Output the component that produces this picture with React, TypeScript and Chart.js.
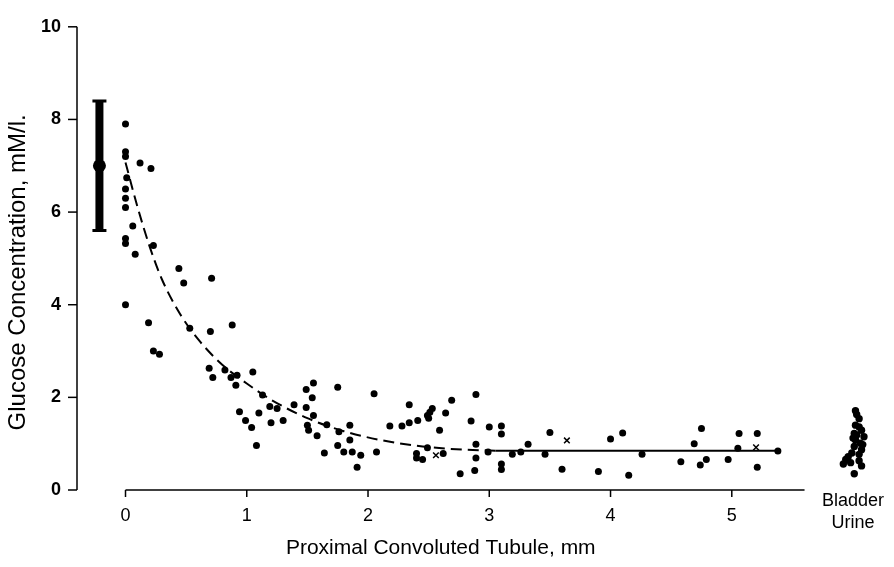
import React, { useEffect, useRef } from "react";
import { Chart, registerables } from "chart.js";

Chart.register(...registerables);

// ---- tick labels / text ----
const X_TICKS = [0, 1, 2, 3, 4, 5];
const Y_TICKS = [0, 2, 4, 6, 8, 10];
const X_TITLE = "Proximal Convoluted Tubule, mm";
const Y_TITLE = "Glucose Concentration, mM/l.";
const BLADDER_LABEL = ["Bladder", "Urine"];

// ---- tubular fluid samples (dots) ----
const TUBULE_X = [
  0.0, 0.0, 0.0, 0.12, 0.21, 0.01, 0.0, 0.0, 0.0, 0.06, 0.0, 0.0, 0.23, 0.08, 0.44, 0.48, 0.71, 0.0,
  0.19, 0.23, 0.28, 0.53, 0.7, 0.88, 0.69, 0.72, 0.82, 0.87, 0.92, 0.91, 1.05, 1.13, 0.94, 0.99, 1.04,
  1.1, 1.08, 1.19, 1.25, 1.2, 1.3, 1.39, 1.49, 1.55, 1.54, 1.49, 1.55, 1.5, 1.51, 1.58, 1.75, 1.66,
  1.76, 1.75, 1.64, 2.05, 2.34, 2.69, 2.89, 1.85, 1.85, 1.8, 1.87, 1.94, 1.91, 2.07, 2.18, 2.28, 2.34,
  2.41, 2.49, 2.51, 2.53, 2.5, 2.64, 2.59, 2.85, 3.0, 3.1, 3.1, 2.49, 2.4, 2.4, 2.45, 2.62, 2.89, 2.89,
  2.99, 2.76, 2.88, 3.1, 3.1, 3.19, 3.26, 3.32, 3.46, 3.5, 3.6, 3.9, 4.0, 4.1, 4.15, 4.26, 4.58, 4.69,
  4.75, 4.74, 4.79, 4.97, 5.06, 5.05, 5.21, 5.21, 5.38,
];
const TUBULE_Y = [
  7.9, 7.3, 7.2, 7.06, 6.94, 6.74, 6.5, 6.3, 6.1, 5.7, 5.43, 5.32, 5.28, 5.09, 4.78, 4.47, 4.57, 4.0,
  3.61, 3.0, 2.93, 3.49, 3.42, 3.56, 2.63, 2.43, 2.59, 2.43, 2.48, 2.26, 2.55, 2.05, 1.69, 1.5, 1.35,
  1.66, 0.96, 1.8, 1.76, 1.45, 1.5, 1.84, 2.17, 2.31, 1.99, 1.78, 1.61, 1.4, 1.29, 1.17, 2.22, 1.41,
  1.26, 0.96, 0.8, 2.08, 1.84, 1.94, 2.06, 1.4, 1.08, 0.82, 0.82, 0.75, 0.49, 0.82, 1.38, 1.38, 1.45,
  1.5, 1.61, 1.68, 1.76, 1.55, 1.66, 1.29, 1.49, 1.36, 1.38, 1.21, 0.91, 0.79, 0.69, 0.66, 0.79, 0.99, 0.69,
  0.82, 0.35, 0.42, 0.56, 0.44, 0.77, 0.82, 0.99, 0.77, 1.24, 0.45, 0.4, 1.1, 1.23, 0.32, 0.77, 0.61, 1.0,
  1.33, 0.54, 0.66, 0.66, 1.22, 0.9, 1.22, 0.49, 0.84,
];

// ---- samples marked with an x ----
const CROSS_X = [2.56, 3.64, 5.2];
const CROSS_Y = [0.75, 1.07, 0.92];

// ---- fitted curve (dashed) and plateau (solid) ----
const CURVE_X = [0, 0.1, 0.2, 0.3, 0.45, 0.6, 0.8, 1.0, 1.2, 1.5, 1.8, 2.1, 2.45, 2.8, 3.05];
const CURVE_Y = [7.07, 6.1, 5.25, 4.55, 3.8, 3.25, 2.7, 2.3, 1.95, 1.55, 1.27, 1.08, 0.94, 0.87, 0.85];
const PLATEAU_X = [3.05, 5.38];
const PLATEAU_Y = [0.85, 0.85];

// ---- bladder urine samples ----
const BLADDER_X = [
  6.02, 6.03, 6.05, 6.02, 6.07, 6.01, 6.09, 6.02, 6.06, 6.01, 6.07, 5.99, 6.05, 5.94, 5.98, 6.05, 6.07,
  5.92, 6.01, 6.03, 6.05, 6.0, 6.08, 5.96,
];
const BLADDER_Y = [
  1.71, 1.63, 1.54, 1.4, 1.29, 1.22, 1.15, 1.08, 1.01, 0.94, 0.87, 0.8, 0.77, 0.66, 0.59, 0.63, 0.52,
  0.56, 0.35, 1.19, 1.36, 1.12, 0.98, 0.72,
];

// ---- plasma (mean and range) ----
const PLASMA_X = -0.215;
const PLASMA_MEAN = 7.0;
const PLASMA_LOW = 5.6;
const PLASMA_HIGH = 8.4;

// axis extents
const X_MIN = -0.4;
const X_MAX = 6.28;
const Y_MIN = 0;
const Y_MAX = 10;
const X_AXIS_END = 5.6;
const X_TITLE_AT = 2.6;
const BLADDER_AT = 6.0;

const FONT = "'Liberation Sans', Arial, Helvetica, sans-serif";

const pts = (xs: number[], ys: number[]) => xs.map((x, i) => ({ x, y: ys[i] }));

const axesPlugin = {
  id: "customAxes",
  afterDraw(chart: any) {
    const { ctx } = chart;
    const xs = chart.scales.x;
    const ys = chart.scales.y;
    ctx.save();
    ctx.strokeStyle = "#000";
    ctx.fillStyle = "#000";
    ctx.lineWidth = 1.5;
    // y axis
    const ax = chart.chartArea.left;
    ctx.beginPath();
    ctx.moveTo(ax, ys.getPixelForValue(Y_MIN));
    ctx.lineTo(ax, ys.getPixelForValue(Y_MAX));
    ctx.stroke();
    Y_TICKS.forEach((v) => {
      const py = ys.getPixelForValue(v);
      ctx.beginPath();
      ctx.moveTo(ax, py);
      ctx.lineTo(ax - 9, py);
      ctx.stroke();
    });
    // x axis
    const ay = ys.getPixelForValue(Y_MIN);
    ctx.beginPath();
    ctx.moveTo(xs.getPixelForValue(X_TICKS[0]), ay);
    ctx.lineTo(xs.getPixelForValue(X_AXIS_END), ay);
    ctx.stroke();
    X_TICKS.forEach((v) => {
      const px = xs.getPixelForValue(v);
      ctx.beginPath();
      ctx.moveTo(px, ay);
      ctx.lineTo(px, ay + 7);
      ctx.stroke();
    });
    // titles
    ctx.textAlign = "center";
    ctx.textBaseline = "middle";
    ctx.font = `21px ${FONT}`;
    ctx.fillText(X_TITLE, xs.getPixelForValue(X_TITLE_AT), 548);
    ctx.save();
    ctx.font = `24px ${FONT}`;
    ctx.translate(18, (ys.getPixelForValue(Y_MIN) + ys.getPixelForValue(Y_MAX)) / 2 + 14);
    ctx.rotate(-Math.PI / 2);
    ctx.fillText(Y_TITLE, 0, 0);
    ctx.restore();
    // bladder label
    ctx.font = `18px ${FONT}`;
    const bx = xs.getPixelForValue(BLADDER_AT);
    ctx.fillText(BLADDER_LABEL[0], bx, ay + 11);
    ctx.fillText(BLADDER_LABEL[1], bx, ay + 33);
    ctx.restore();
  },
};

export default function App() {
  const ref = useRef<HTMLCanvasElement | null>(null);
  useEffect(() => {
    if (!ref.current) return;
    const chart = new Chart(ref.current, {
      type: "scatter",
      data: {
        datasets: [
          {
            type: "line",
            data: pts(CURVE_X, CURVE_Y),
            borderColor: "#000",
            borderWidth: 2,
            borderDash: [11, 6],
            pointRadius: 0,
            cubicInterpolationMode: "monotone",
            fill: false,
          },
          {
            type: "line",
            data: pts(PLATEAU_X, PLATEAU_Y),
            borderColor: "#000",
            borderWidth: 2,
            pointRadius: 0,
            fill: false,
          },
          {
            data: pts(TUBULE_X, TUBULE_Y),
            backgroundColor: "#000",
            borderColor: "#000",
            pointRadius: 3.5,
            borderWidth: 0,
          },
          {
            data: pts(BLADDER_X, BLADDER_Y),
            backgroundColor: "#000",
            borderColor: "#000",
            pointRadius: 3.7,
            borderWidth: 0,
          },
          {
            data: pts(CROSS_X, CROSS_Y),
            pointStyle: "crossRot",
            borderColor: "#000",
            pointRadius: 4,
            borderWidth: 1.5,
          },
          {
            type: "line",
            data: [
              { x: PLASMA_X, y: PLASMA_LOW },
              { x: PLASMA_X, y: PLASMA_HIGH },
            ],
            borderColor: "#000",
            borderWidth: 8,
            borderCapStyle: "butt",
            pointStyle: "line",
            pointRadius: 7,
            pointBorderWidth: 3,
            pointBorderColor: "#000",
            fill: false,
          },
          {
            data: [{ x: PLASMA_X, y: PLASMA_MEAN }],
            backgroundColor: "#000",
            pointRadius: 6.5,
            borderWidth: 0,
          },
        ],
      },
      options: {
        responsive: false,
        animation: false,
        events: [],
        layout: { autoPadding: false, padding: { top: 13, right: 7, left: 0, bottom: 0 } },
        plugins: { legend: { display: false }, tooltip: { enabled: false } },
        scales: {
          x: {
            type: "linear",
            min: X_MIN,
            max: X_MAX,
            afterBuildTicks: (s: any) => {
              s.ticks = X_TICKS.map((v) => ({ value: v }));
            },
            afterFit: (s: any) => {
              s.height = 77;
            },
            grid: { display: false, drawTicks: false },
            border: { display: false },
            ticks: {
              padding: 15,
              color: "#000",
              font: { family: FONT, size: 18 },
              callback: (v: any) => String(v),
            },
          },
          y: {
            type: "linear",
            min: Y_MIN,
            max: Y_MAX,
            afterBuildTicks: (s: any) => {
              s.ticks = Y_TICKS.map((v) => ({ value: v }));
            },
            afterFit: (s: any) => {
              s.width = 77;
            },
            grid: { display: false, drawTicks: false },
            border: { display: false },
            ticks: {
              padding: 16,
              color: "#000",
              font: { family: FONT, size: 18, weight: "bold" },
              callback: (v: any) => String(v),
            },
          },
        },
      },
      plugins: [axesPlugin],
    } as any);
    return () => chart.destroy();
  }, []);
  return (
    <div style={{ position: "fixed", left: 0, top: 0, width: 894, height: 567, background: "#fff" }}>
      <canvas ref={ref} width={894} height={567} style={{ display: "block" }} />
    </div>
  );
}
